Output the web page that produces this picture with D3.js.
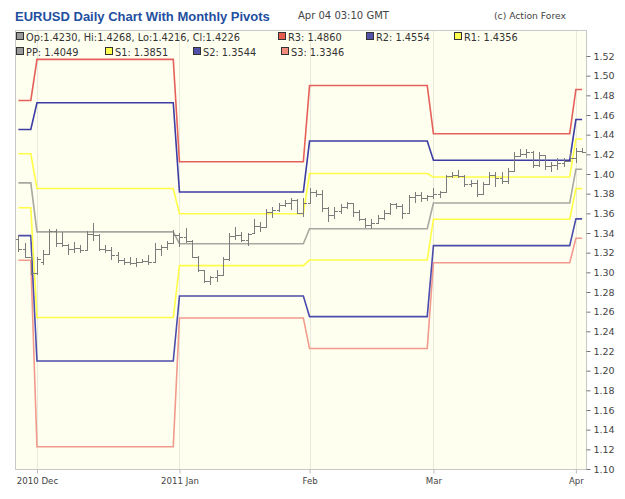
<!DOCTYPE html>
<html>
<head>
<meta charset="utf-8">
<script src="https://cdn.jsdelivr.net/npm/d3@7/dist/d3.min.js"></script>
<style>
  body { margin: 0; background: #fff; }
  text { font-family: "DejaVu Sans", Verdana, sans-serif; }
</style>
</head>
<body>
<script>
// trading days Nov 26 2010 .. Apr 4 2011 (weekdays only)
const days = d3.timeDay.range(new Date(2010, 10, 26), new Date(2011, 3, 5))
    .filter(d => d.getDay() !== 0 && d.getDay() !== 6)

// daily OHLC
const opens = [1.3340, 1.3235, 1.3160, 1.2990, 1.3110, 1.3190, 1.3420, 1.3300, 1.3280, 1.3240,
    1.3250, 1.3225, 1.3390, 1.3380, 1.3240, 1.3230, 1.3180, 1.3130, 1.3110, 1.3100,
    1.3110, 1.3115, 1.3110, 1.3240, 1.3260, 1.3300, 1.3380, 1.3360, 1.3320, 1.3160,
    1.3020, 1.2910, 1.2950, 1.2975, 1.3140, 1.3370, 1.3380, 1.3330, 1.3400, 1.3470,
    1.3460, 1.3610, 1.3630, 1.3680, 1.3710, 1.3740, 1.3600, 1.3700, 1.3820, 1.3800,
    1.3650, 1.3580, 1.3620, 1.3660, 1.3700, 1.3610, 1.3540, 1.3480, 1.3500, 1.3550,
    1.3600, 1.3690, 1.3670, 1.3600, 1.3770, 1.3790, 1.3760, 1.3780, 1.3800, 1.3820,
    1.3980, 1.3990, 1.3980, 1.3900, 1.3910, 1.3800, 1.3900, 1.3990, 1.3960, 1.3930,
    1.4030, 1.4180, 1.4200, 1.4220, 1.4090, 1.4190, 1.4080, 1.4090, 1.4110, 1.4130,
    1.4160, 1.4230]
const highs = [1.3375, 1.3300, 1.3165, 1.3160, 1.3225, 1.3440, 1.3440, 1.3410, 1.3290, 1.3310,
    1.3280, 1.3420, 1.3500, 1.3390, 1.3280, 1.3260, 1.3210, 1.3146, 1.3155, 1.3146,
    1.3140, 1.3176, 1.3300, 1.3280, 1.3315, 1.3430, 1.3400, 1.3450, 1.3330, 1.3165,
    1.3025, 1.2960, 1.3025, 1.3160, 1.3400, 1.3465, 1.3415, 1.3400, 1.3540, 1.3515,
    1.3645, 1.3667, 1.3705, 1.3736, 1.3756, 1.3750, 1.3756, 1.3858, 1.3840, 1.3837,
    1.3664, 1.3660, 1.3690, 1.3720, 1.3710, 1.3630, 1.3550, 1.3540, 1.3580, 1.3630,
    1.3710, 1.3710, 1.3700, 1.3790, 1.3820, 1.3820, 1.3790, 1.3858, 1.3830, 1.3990,
    1.4023, 1.4040, 1.3985, 1.3939, 1.3939, 1.3922, 1.4023, 1.4023, 1.4023, 1.4060,
    1.4227, 1.4251, 1.4251, 1.4230, 1.4227, 1.4195, 1.4125, 1.4160, 1.4160, 1.4227,
    1.4261, 1.4268]
const lows = [1.3205, 1.3146, 1.2975, 1.2973, 1.3075, 1.3190, 1.3258, 1.3260, 1.3175, 1.3195,
    1.3197, 1.3220, 1.3320, 1.3220, 1.3197, 1.3130, 1.3092, 1.3075, 1.3075, 1.3057,
    1.3095, 1.3075, 1.3095, 1.3170, 1.3227, 1.3290, 1.3258, 1.3300, 1.3146, 1.3005,
    1.2890, 1.2870, 1.2900, 1.2960, 1.3120, 1.3330, 1.3310, 1.3265, 1.3390, 1.3410,
    1.3460, 1.3553, 1.3617, 1.3667, 1.3634, 1.3590, 1.3566, 1.3690, 1.3766, 1.3614,
    1.3512, 1.3540, 1.3590, 1.3640, 1.3560, 1.3520, 1.3450, 1.3440, 1.3490, 1.3530,
    1.3580, 1.3640, 1.3540, 1.3595, 1.3710, 1.3720, 1.3730, 1.3750, 1.3756, 1.3810,
    1.3959, 1.3959, 1.3871, 1.3871, 1.3770, 1.3790, 1.3900, 1.3871, 1.3898, 1.3900,
    1.4020, 1.4176, 1.4160, 1.4058, 1.4074, 1.4041, 1.4023, 1.4041, 1.4074, 1.4120,
    1.4110, 1.4216]
const closes = [1.3235, 1.3160, 1.2990, 1.3140, 1.3190, 1.3420, 1.3300, 1.3280, 1.3240, 1.3250,
    1.3225, 1.3390, 1.3380, 1.3240, 1.3230, 1.3180, 1.3130, 1.3110, 1.3100, 1.3110,
    1.3115, 1.3110, 1.3240, 1.3260, 1.3300, 1.3380, 1.3360, 1.3320, 1.3160, 1.3020,
    1.2910, 1.2950, 1.2975, 1.3140, 1.3370, 1.3380, 1.3330, 1.3390, 1.3470, 1.3460,
    1.3610, 1.3630, 1.3680, 1.3710, 1.3740, 1.3600, 1.3700, 1.3820, 1.3800, 1.3650,
    1.3580, 1.3620, 1.3660, 1.3700, 1.3610, 1.3540, 1.3480, 1.3500, 1.3550, 1.3600,
    1.3690, 1.3670, 1.3600, 1.3770, 1.3790, 1.3760, 1.3780, 1.3800, 1.3820, 1.3980,
    1.3990, 1.3980, 1.3900, 1.3910, 1.3800, 1.3900, 1.3990, 1.3960, 1.3930, 1.4030,
    1.4180, 1.4200, 1.4220, 1.4090, 1.4190, 1.4080, 1.4090, 1.4110, 1.4130, 1.4160,
    1.4235, 1.4226]

// monthly pivot levels
const months = ['2010-11', '2010-12', '2011-01', '2011-02', '2011-03', '2011-04']
const r3 = [1.4748, 1.5166, 1.4125, 1.4900, 1.4410, 1.4860]
const r2 = [1.4452, 1.4724, 1.3817, 1.4335, 1.4140, 1.4554]
const r1 = [1.4206, 1.3853, 1.3596, 1.4005, 1.3970, 1.4356]
const pp = [1.3910, 1.3411, 1.3291, 1.3443, 1.3705, 1.4049]
const s1 = [1.3657, 1.2540, 1.3068, 1.3125, 1.3540, 1.3851]
const s2 = [1.3373, 1.2098, 1.2760, 1.2550, 1.3272, 1.3544]
const s3 = [1.3123, 1.1227, 1.2536, 1.2225, 1.3097, 1.3346]

const yTicks = [1.10, 1.12, 1.14, 1.16, 1.18, 1.20, 1.22, 1.24, 1.26, 1.28, 1.30,
    1.32, 1.34, 1.36, 1.38, 1.40, 1.42, 1.44, 1.46, 1.48, 1.50, 1.52]
const xTickDays = ['2010-12-01', '2011-01-03', '2011-02-01', '2011-03-01', '2011-04-01']
const xTickLabels = ['2010 Dec', '2011 Jan', 'Feb', 'Mar', 'Apr']

const w = 625
const h = 499
const pL = 15, pR = 586, pT = 30, pB = 469

const fmtDay = d3.timeFormat('%Y-%m-%d')
const fmtMonth = d3.timeFormat('%Y-%m')
const dayKeys = days.map(fmtDay)

const xScale = d3.scalePoint()
    .domain(dayKeys)
    .range([18.4, 582.1])

const yScale = d3.scaleLinear()
    .domain([1.10, 1.52])
    .range([pB, 56])

const svg = d3.select('body')
    .append('svg')
    .attr('width', w)
    .attr('height', h)

// titles
svg.append('text')
    .attr('x', 15).attr('y', 21)
    .style('font-family', '"Liberation Sans", Arial, sans-serif')
    .style('font-weight', 'bold')
    .style('font-size', '13px')
    .attr('fill', '#1f4f9f')
    .text('EURUSD Daily Chart With Monthly Pivots')

svg.append('text')
    .attr('x', 298).attr('y', 19)
    .style('font-size', '10px')
    .attr('fill', '#444')
    .text('Apr 04 03:10 GMT')

svg.append('text')
    .attr('x', 494).attr('y', 19)
    .style('font-size', '9.2px')
    .attr('fill', '#444')
    .text('(c) Action Forex')

// plot background
svg.append('rect')
    .attr('x', pL + 0.5).attr('y', pT + 0.5)
    .attr('width', pR - pL).attr('height', pB - pT)
    .attr('fill', '#fffff0')
    .attr('stroke', '#c8c8c8')

// month gridlines
svg.selectAll('.grid')
    .data(xTickDays)
    .enter()
    .append('line')
    .attr('x1', d => Math.round(xScale(d)) + 0.5)
    .attr('x2', d => Math.round(xScale(d)) + 0.5)
    .attr('y1', pT + 1)
    .attr('y2', pB)
    .attr('stroke', '#e8e8dc')

// pivot lines
const monthIdx = days.map(d => months.indexOf(fmtMonth(d)))
const pivots = [
    { vals: s3, color: '#f29a8c' },
    { vals: s2, color: '#4c4cac' },
    { vals: s1, color: '#ffff48' },
    { vals: pp, color: '#a8a8a0' },
    { vals: r1, color: '#ffff48' },
    { vals: r2, color: '#3c3ca4' },
    { vals: r3, color: '#e6605a' }
]

const line = d3.line()
    .x((d, i) => xScale(dayKeys[i]))
    .y(d => yScale(d))

pivots.forEach(p => {
    svg.append('path')
        .datum(monthIdx.map(m => p.vals[m]))
        .attr('d', line)
        .attr('fill', 'none')
        .attr('stroke', p.color)
        .attr('stroke-width', 1.6)
})

// OHLC bars
const bars = svg.append('g')
    .attr('stroke', '#7c7c7c')
    .attr('stroke-width', 1)
    .attr('shape-rendering', 'crispEdges')

dayKeys.forEach((k, i) => {
    const x = Math.round(xScale(k)) + 0.5
    bars.append('line')
        .attr('x1', x).attr('x2', x)
        .attr('y1', yScale(highs[i])).attr('y2', yScale(lows[i]))
    bars.append('line')
        .attr('x1', x - 3).attr('x2', x)
        .attr('y1', Math.round(yScale(opens[i])) + 0.5).attr('y2', Math.round(yScale(opens[i])) + 0.5)
    bars.append('line')
        .attr('x1', x).attr('x2', x + 3)
        .attr('y1', Math.round(yScale(closes[i])) + 0.5).attr('y2', Math.round(yScale(closes[i])) + 0.5)
})

// y axis on the right
const yAxis = d3.axisRight(yScale)
    .tickValues(yTicks)
    .tickFormat(d3.format('.2f'))
    .tickSize(4)
    .tickPadding(3)

const yG = svg.append('g')
    .attr('transform', `translate(${pR + 0.5},0)`)
    .call(yAxis)
yG.select('.domain').remove()
yG.selectAll('line').attr('stroke', '#777')
yG.selectAll('text')
    .style('font-size', '9.5px')
    .style('font-family', '"DejaVu Sans", Verdana, sans-serif')
    .attr('fill', '#444')

// x axis
const xAxis = d3.axisBottom(xScale)
    .tickValues(xTickDays)
    .tickFormat((d, i) => xTickLabels[i])
    .tickSize(4)
    .tickPadding(4)

const xG = svg.append('g')
    .attr('transform', `translate(0,${pB + 0.5})`)
    .call(xAxis)
xG.select('.domain').remove()
xG.selectAll('line').attr('stroke', '#bbb')
xG.selectAll('text')
    .style('font-size', '8.6px')
    .style('font-family', '"DejaVu Sans", Verdana, sans-serif')
    .attr('fill', '#444')

// legend
const fmt4 = d3.format('.4f')
const last = days.length - 1
const legend = [
    { x: 20, y: 37, color: '#9a9a9a', label: 'Op:' + fmt4(opens[last]) + ', Hi:' + fmt4(highs[last]) + ', Lo:' + fmt4(lows[last]) + ', Cl:' + fmt4(closes[last]) },
    { x: 282, y: 37, color: '#e65a50', label: 'R3: ' + fmt4(r3[5]) },
    { x: 370, y: 37, color: '#5252aa', label: 'R2: ' + fmt4(r2[5]) },
    { x: 458, y: 37, color: '#ffff50', label: 'R1: ' + fmt4(r1[5]) },
    { x: 20, y: 52, color: '#9a9a9a', label: 'PP: ' + fmt4(pp[5]) },
    { x: 109, y: 52, color: '#ffff50', label: 'S1: ' + fmt4(s1[5]) },
    { x: 197, y: 52, color: '#5252aa', label: 'S2: ' + fmt4(s2[5]) },
    { x: 285, y: 52, color: '#f28c7c', label: 'S3: ' + fmt4(s3[5]) }
]

const lg = svg.selectAll('.lg')
    .data(legend)
    .enter()
    .append('g')
    .attr('transform', d => `translate(${d.x},${d.y})`)

lg.append('rect')
    .attr('x', -3.5).attr('y', -4.5)
    .attr('width', 7).attr('height', 7)
    .attr('fill', d => d.color)
    .attr('stroke', '#333')

lg.append('text')
    .attr('x', 6).attr('y', 3.5)
    .style('font-size', '9.8px')
    .attr('fill', '#333')
    .text(d => d.label)
</script>
</body>
</html>
